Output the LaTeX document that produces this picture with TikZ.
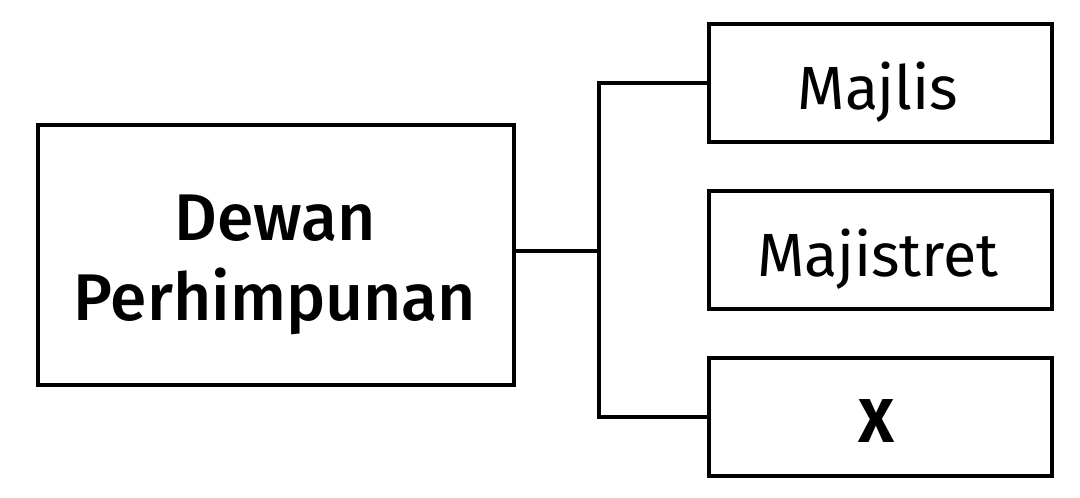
\documentclass[tikz,border=0pt]{standalone}
\usepackage{fontspec}
\setmainfont{Fira Sans}
\newfontfamily\medfont{Fira Sans Medium}
\begin{document}
\begin{tikzpicture}[x=1pt,y=-1pt,
  box/.style={draw,line width=4pt,inner sep=0pt,anchor=north west},
  lbl/.style={anchor=base,inner sep=0pt,font=\fontsize{61}{70}\selectfont},
  big/.style={anchor=base,inner sep=0pt,font=\medfont\fontsize{66}{80}\selectfont},
  conn/.style={line width=3.5pt,line join=miter}]
\useasboundingbox (0,0) rectangle (1080,498);
\node[box,minimum width=476pt,minimum height=260pt] (dp) at (36,123) {};
\node[big] (dpt1) at (275,240) {Dewan};
\node[big] (dpt2) at (275,320) {Perhimpunan};
\node[box,minimum width=343pt,minimum height=118pt] (m1) at (707,22) {};
\node[lbl] (t1) at (878,109) {Majlis};
\node[box,minimum width=343pt,minimum height=118pt] (m2) at (707,189) {};
\node[lbl] (t2) at (878,276) {Majistret};
\node[box,minimum width=343pt,minimum height=118pt] (m3) at (707,356) {};
\node[lbl,font=\bfseries\fontsize{62}{70}\selectfont] (t3) at (877,442) {X};
\coordinate (j) at (599,251);
\draw[conn] (dp.east |- j) -- (j);
\draw[conn] (m1.west) -| (j) |- (m3.west);
\end{tikzpicture}
\end{document}
